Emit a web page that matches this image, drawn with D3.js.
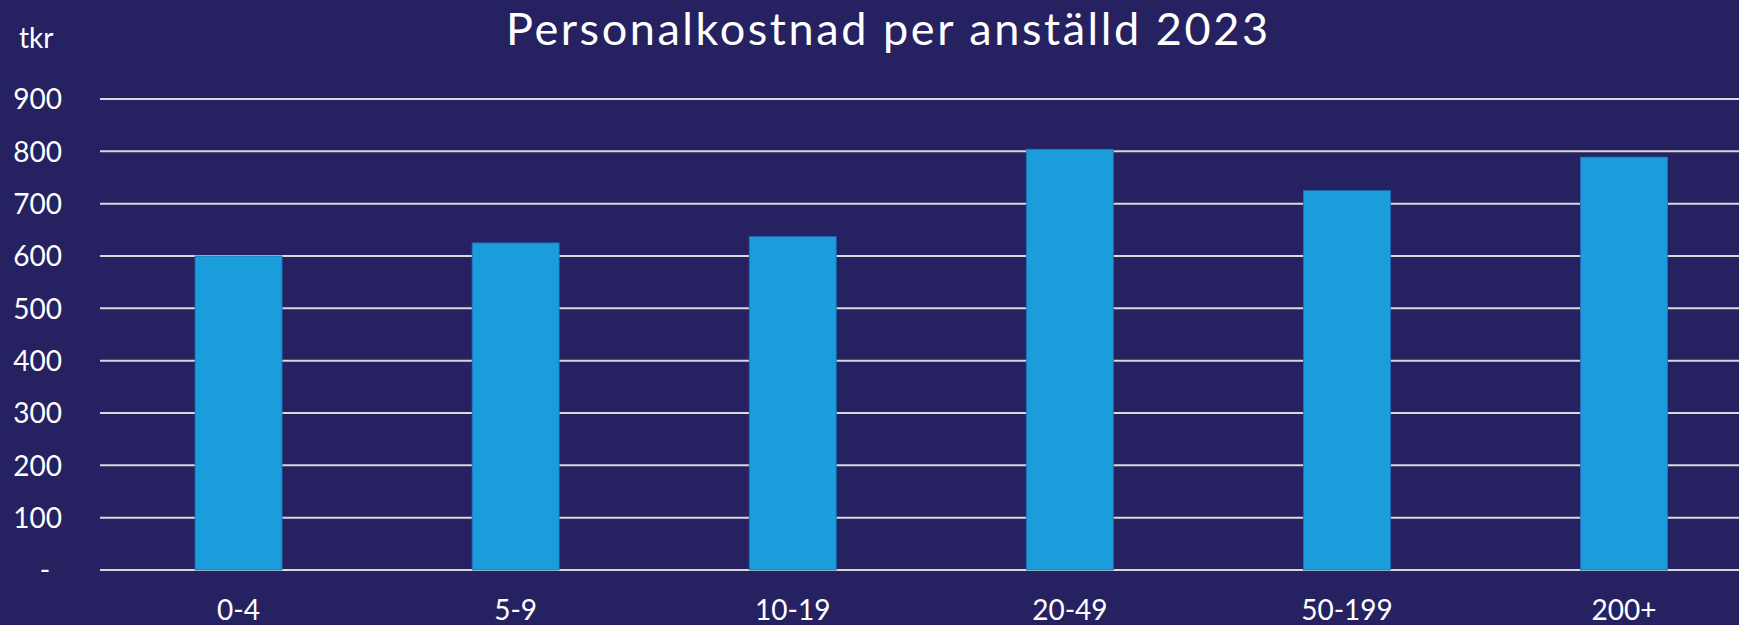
<!DOCTYPE html>
<html>
<head>
<meta charset="utf-8">
<script src="https://cdn.jsdelivr.net/npm/d3@7"></script>
<style>
  html, body { margin: 0; padding: 0; background: #262262; }
  svg { display: block; }
  text { fill: #ffffff; }
</style>
</head>
<body>
<svg id="chart" width="1739" height="625"></svg>
<script>
const categories = ["0-4", "5-9", "10-19", "20-49", "50-199", "200+"];
const values = [600, 625, 637, 804, 725, 789];
const yTicks = [0, 100, 200, 300, 400, 500, 600, 700, 800, 900];
const yTickLabels = ["-", "100", "200", "300", "400", "500", "600", "700", "800", "900"];
const title = "Personalkostnad per anställd 2023";
const unitLabel = "tkr";

const W = 1739, H = 625;
const svg = d3.select("#chart");
svg.append("rect").attr("width", W).attr("height", H).attr("fill", "#262262");

const plotLeft = 100, step = 277.1;
const x = d3.scaleBand()
  .domain(categories)
  .range([plotLeft, plotLeft + step * categories.length])
  .paddingInner(0.686)
  .paddingOuter(0.343);

const y = d3.scaleLinear().domain([0, 900]).range([570, 99]);

const labelFont = "Lato, 'Open Sans', sans-serif";

// gridlines
svg.append("g").selectAll("line")
  .data(yTicks)
  .join("line")
  .attr("x1", plotLeft)
  .attr("x2", W)
  .attr("y1", d => y(d))
  .attr("y2", d => y(d))
  .attr("stroke", "#d9d9d9")
  .attr("stroke-width", 2);

// bars
svg.append("g").selectAll("rect")
  .data(categories)
  .join("rect")
  .attr("x", d => x(d))
  .attr("width", x.bandwidth())
  .attr("y", (d, i) => y(values[i]))
  .attr("height", (d, i) => y(0) - y(values[i]))
  .attr("fill", "#1b9cdb")
  .attr("stroke", "#1f6fb5")
  .attr("stroke-width", 0.8);

// y axis labels
const yAxis = d3.axisLeft(y)
  .tickValues(yTicks)
  .tickFormat((d, i) => yTickLabels[i])
  .tickSize(0)
  .tickPadding(0);
const gy = svg.append("g").attr("transform", "translate(62,0)").call(yAxis);
gy.select(".domain").remove();
gy.selectAll("text")
  .style("font-family", labelFont)
  .style("font-size", "28px")
  .attr("fill", "#ffffff")
  .attr("dy", "0.35em");
gy.selectAll(".tick").filter(d => d === 0).select("text")
  .attr("text-anchor", "middle")
  .attr("x", -17);

// x axis labels
const xAxis = d3.axisBottom(x).tickSize(0).tickPadding(0);
const gx = svg.append("g").attr("transform", "translate(0,620)").call(xAxis);
gx.select(".domain").remove();
gx.selectAll("text")
  .style("font-family", labelFont)
  .style("font-size", "28px")
  .attr("fill", "#ffffff")
  .attr("dy", 0)
  .attr("y", 0);

// unit label
svg.append("text")
  .attr("x", 19)
  .attr("y", 47.5)
  .style("font-family", labelFont)
  .style("font-size", "28px")
  .text(unitLabel);

// title
svg.append("text")
  .attr("x", 887)
  .attr("y", 45)
  .attr("text-anchor", "middle")
  .attr("textLength", 762)
  .attr("lengthAdjust", "spacing")
  .style("font-family", labelFont)
  .style("font-size", "45px")
  .text(title);
</script>
</body>
</html>
